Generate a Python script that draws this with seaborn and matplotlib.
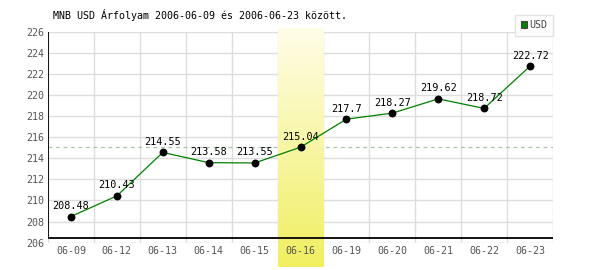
import numpy as np
import matplotlib
matplotlib.use("Agg")
import matplotlib.pyplot as plt
import seaborn as sns
import pandas as pd
from matplotlib.patches import Patch
from matplotlib.colors import LinearSegmentedColormap

dates = ["06-09", "06-12", "06-13", "06-14", "06-15", "06-16",
         "06-19", "06-20", "06-21", "06-22", "06-23"]
rates = [208.48, 210.43, 214.55, 213.58, 213.55, 215.04,
         217.7, 218.27, 219.62, 218.72, 222.72]
rate_labels = ["208.48", "210.43", "214.55", "213.58", "213.55", "215.04",
               "217.7", "218.27", "219.62", "218.72", "222.72"]
highlight_date = "06-16"
ref_value = 215.04
y_ticks = [206, 208, 210, 212, 214, 216, 218, 220, 222, 224, 226]
title = "MNB USD Árfolyam 2006-06-09 és 2006-06-23 között."
series_name = "USD"

sns.set_style("white")
plt.rcParams["font.family"] = ["DejaVu Sans Mono", "DejaVu Sans"]

df = pd.DataFrame({"x": np.arange(len(dates)), "rate": rates})

fig = plt.figure(figsize=(6, 2.7), dpi=100)
ax = fig.add_axes([0.08, 0.1011, 0.8417, 0.7822])
ax.set_axisbelow(False)

# ticks
ax.set_xticks(np.arange(len(dates)))
ax.set_xticklabels(dates)
ax.set_yticks(y_ticks)
ax.grid(False)

# manual grid (kept below the highlight)
for b in np.arange(len(dates) + 1) - 0.5:
    ax.axvline(b, color="#dddddd", lw=1, zorder=0.5)
for yt in y_ticks:
    ax.axhline(yt, color="#dddddd", lw=1, zorder=0.5)

# reference dashed line
ax.axhline(ref_value, color="#a8c4a8", lw=0.9, ls=(0, (3, 3)), zorder=1)

# highlight gradient
hi = dates.index(highlight_date)
cmap = LinearSegmentedColormap.from_list("hl", ["#fffde8", "#f0ef60"])
grad = np.linspace(0, 1, 256).reshape(-1, 1)
ax.imshow(grad, cmap=cmap, aspect="auto", origin="upper",
          extent=(hi - 0.5, hi + 0.5, 203.7, 226.3),
          zorder=1.5, clip_on=False)

# axis lines
ax.axhline(206.45, color="black", lw=1.3, zorder=2)
ax.axvline(-0.5, ymin=0.45 / 20, ymax=1, color="black", lw=1.3, zorder=2)

# series
sns.lineplot(data=df, x="x", y="rate", color="#008000", lw=0.9, ax=ax,
             zorder=3, legend=False)
sns.scatterplot(data=df, x="x", y="rate", color="black", s=32,
                edgecolor="black", linewidth=0, ax=ax, zorder=4, legend=False)

for xi, yv, lab in zip(df["x"], rates, rate_labels):
    ax.annotate(lab, (xi, yv), xytext=(0, 7.6), textcoords="offset points",
                ha="center", va="center", fontsize=7.3, color="black", zorder=5)

ax.set_xlim(-0.5, len(dates) - 0.5)
ax.set_ylim(206, 226)
for s in ax.spines.values():
    s.set_visible(False)
ax.tick_params(axis="both", which="both", length=0, labelsize=7.2,
               labelcolor="#555555")
ax.tick_params(axis="x", pad=2.5)
ax.tick_params(axis="y", pad=3)
ax.set_xlabel("")
ax.set_ylabel("")

fig.text(0.0883, 0.943, title, ha="left", va="center", fontsize=7.2,
         color="black")

leg = ax.legend(handles=[Patch(facecolor="#008000", edgecolor="#444444",
                               lw=0.8, label=series_name)],
                loc="upper right", bbox_to_anchor=(0.922, 0.946),
                bbox_transform=fig.transFigure, frameon=True, fancybox=False,
                fontsize=7.2, handlelength=0.6, handleheight=0.6,
                handletextpad=0.3, borderpad=0.55, borderaxespad=0)
leg.get_frame().set_edgecolor("#dddddd")
leg.get_frame().set_linewidth(1)
leg.set_zorder(6)
for t in leg.get_texts():
    t.set_color("#444444")

fig.savefig("out.png", dpi=100)
